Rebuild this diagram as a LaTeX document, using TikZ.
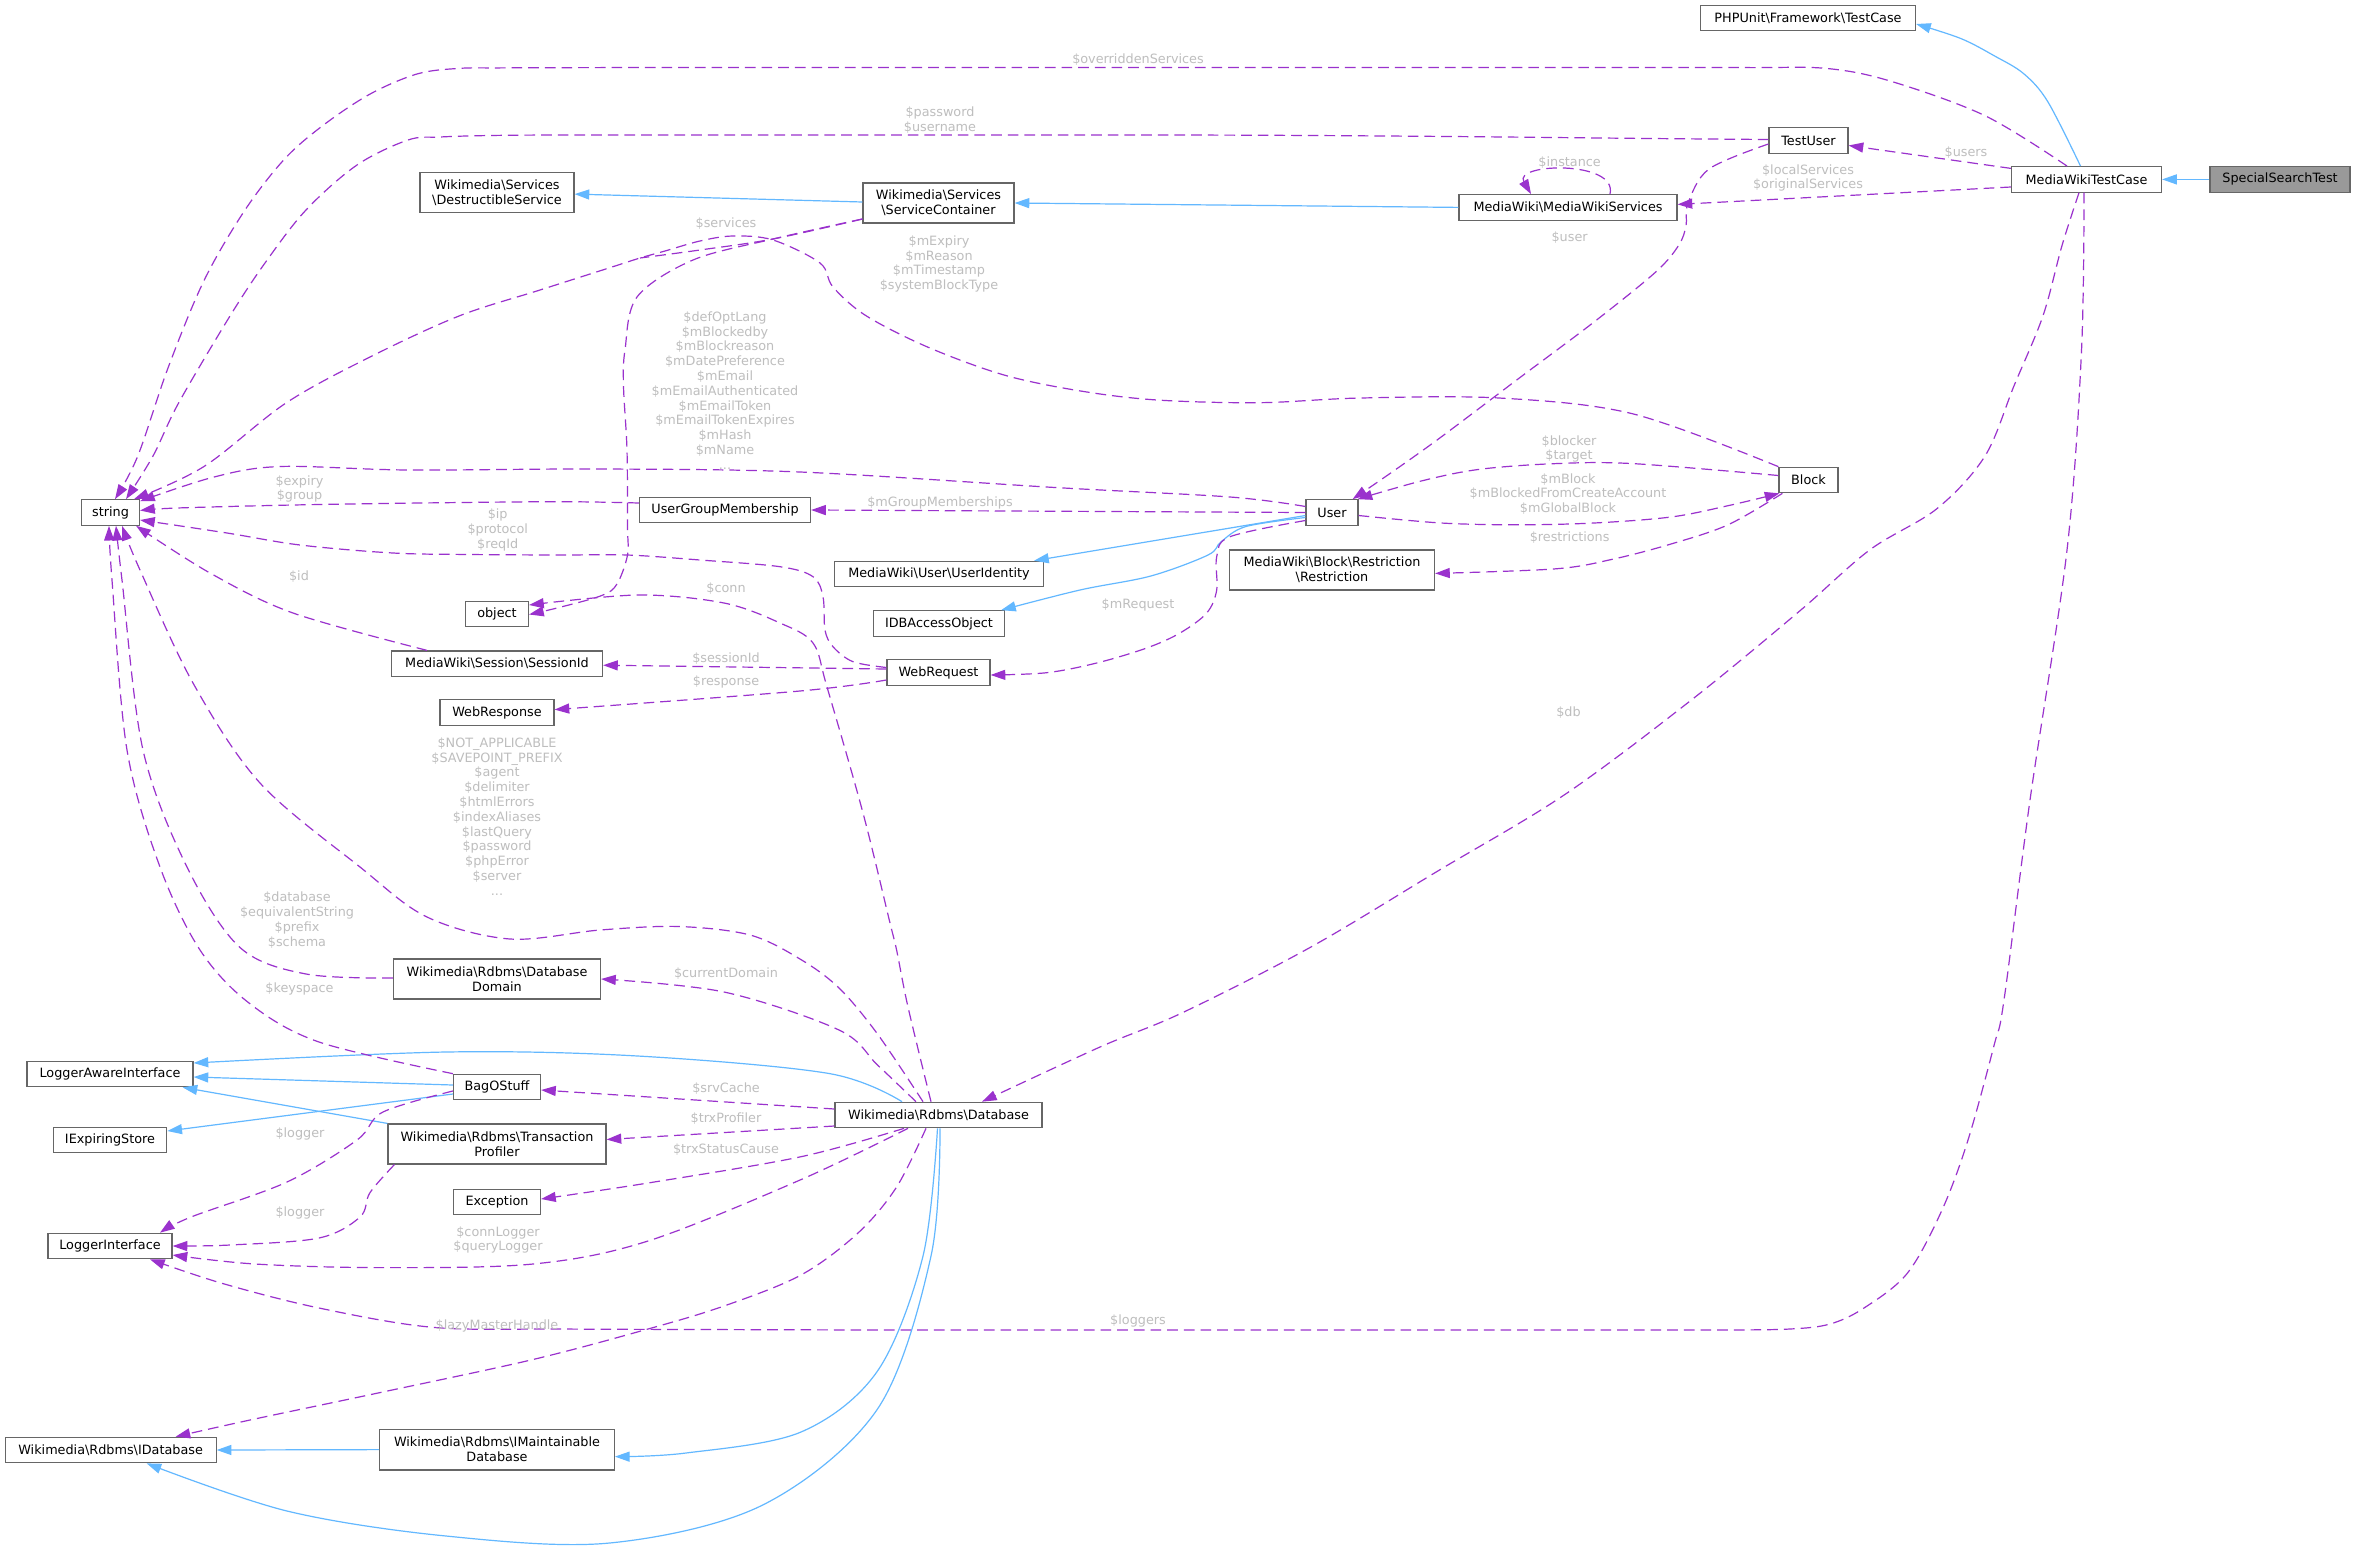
\documentclass[tikz,border=0pt]{standalone}
\usepackage{fontspec}
\setmainfont{DejaVu Sans}
\usetikzlibrary{arrows.meta}
\definecolor{cpurple}{HTML}{9A32CD}
\definecolor{cblue}{HTML}{63B8FF}
\definecolor{cgrey}{HTML}{BEBEBE}
\definecolor{cborder}{HTML}{666666}
\definecolor{cfill}{HTML}{999999}
\newcommand\gfont{\fontsize{9.6pt}{11.1pt}\selectfont}
\begin{document}
\begin{tikzpicture}[x=0.75pt,y=-0.75pt,
  nd/.style={draw=cborder, line width=0.9pt, fill=white, inner sep=0pt, minimum height=19.1pt, font=\gfont, align=center, text=black},
  wd/.style={minimum width=#1*0.75pt},
  h2/.style={minimum height=30pt},
  inh/.style={draw=cblue, line width=0.9pt, -{Triangle[length=11pt,width=7.5pt]}},
  use/.style={draw=cpurple, line width=0.9pt, dash pattern=on 8pt off 4.5pt, -{Triangle[length=11pt,width=7.5pt]}},
  lab/.style={text=cgrey, font=\gfont, align=center, inner sep=0pt},
  sm/.style={smooth, tension=0.55}
]
\path[fill=white] (0,0) rectangle (2355,1549);
\useasboundingbox (0,0) rectangle (2355,1549);

% ---------------- nodes
\node[nd,wd=215] (phpunit) at (1808,18) {PHPUnit\textbackslash Framework\textbackslash TestCase};
\node[nd,wd=79] (testuser) at (1808.5,140.5) {TestUser};
\node[nd,wd=150] (mwtc) at (2086.5,179.4) {MediaWikiTestCase};
\node[nd,wd=140,fill=cfill] (sst) at (2280,179.4) {SpecialSearchTest};
\node[nd,wd=218] (mws) at (1568,207.4) {MediaWiki\textbackslash MediaWikiServices};
\node[nd,wd=151,h2] (sc) at (938.5,203) {Wikimedia\textbackslash Services\\\textbackslash ServiceContainer};
\node[nd,wd=154,h2] (ds) at (497,192.6) {Wikimedia\textbackslash Services\\\textbackslash DestructibleService};
\node[nd,wd=58] (string) at (110.5,512.5) {string};
\node[nd,wd=171] (ugm) at (725,510) {UserGroupMembership};
\node[nd,wd=52] (user) at (1332,512.5) {User};
\node[nd,wd=59] (block) at (1808.5,480) {Block};
\node[nd,wd=205,h2] (restr) at (1332,570) {MediaWiki\textbackslash Block\textbackslash Restriction\\\textbackslash Restriction};
\node[nd,wd=209] (ui) at (939,574) {MediaWiki\textbackslash User\textbackslash UserIdentity};
\node[nd,wd=131] (idb) at (939,623.5) {IDBAccessObject};
\node[nd,wd=63] (object) at (497,614) {object};
\node[nd,wd=211] (sid) at (497,663.7) {MediaWiki\textbackslash Session\textbackslash SessionId};
\node[nd,wd=103] (webreq) at (938.5,672.5) {WebRequest};
\node[nd,wd=114] (wresp) at (497,712.6) {WebResponse};
\node[nd,wd=207,h2] (dd) at (497,979) {Wikimedia\textbackslash Rdbms\textbackslash Database\\Domain};
\node[nd,wd=166] (lai) at (110,1074) {LoggerAwareInterface};
\node[nd,wd=87] (bag) at (497,1087) {BagOStuff};
\node[nd,wd=113.5] (ies) at (110,1140) {IExpiringStore};
\node[nd,wd=218,h2] (tp) at (497,1144) {Wikimedia\textbackslash Rdbms\textbackslash Transaction\\Profiler};
\node[nd,wd=87] (exc) at (497,1202) {Exception};
\node[nd,wd=124] (li) at (110,1246) {LoggerInterface};
\node[nd,wd=207] (db) at (938.5,1115) {Wikimedia\textbackslash Rdbms\textbackslash Database};
\node[nd,wd=211] (idbase) at (110.6,1450) {Wikimedia\textbackslash Rdbms\textbackslash IDatabase};
\node[nd,wd=234.6,minimum height=30.5pt] (imd) at (497,1449.6) {Wikimedia\textbackslash Rdbms\textbackslash IMaintainable\\Database};

% ---------------- inheritance (blue)
\draw[inh] (sst.west) -- (mwtc.east);
\draw[inh] plot[sm] coordinates {([shift={(-6,0)}]mwtc.north) (2047.8,101.7) (2023.7,73.7) (1994.8,56.1) (1961,38.6) ([shift={(0,6)}]phpunit.east)};
\draw[inh] ([shift={(0,-1)}]sc.west) -- ([shift={(0,1.5)}]ds.east);
\draw[inh] (mws.west) -- (sc.east);
\draw[inh] ([shift={(0,3)}]user.west) -- ([shift={(-10,0)}]ui.north east);
\draw[inh] plot[sm] coordinates {([shift={(0,5)}]user.west) (1246,526.5) (1221,541.8) (1208,555) (1150.8,576) (1080,590) ([shift={(-4,0)}]idb.north east)};
\draw[inh] ([shift={(0,-2)}]bag.west) -- ([shift={(0,3)}]lai.east);
\draw[inh] ([shift={(0,7)}]bag.west) -- ([shift={(0,-9)}]ies.east);
\draw[inh] (tp.north west) -- ([shift={(-11,0)}]lai.south east);
\draw[inh] plot[sm] coordinates {([shift={(-36.5,0)}]db.north) (829,1073.5) (637.7,1056) (446,1052) ([shift={(0,-11)}]lai.east)};
\draw[inh] plot[sm] coordinates {([shift={(-1,0)}]db.south) (923,1256) (877.5,1371) (801,1432) (686,1453) ([shift={(0,7)}]imd.east)};
\draw[inh] plot[sm] coordinates {([shift={(1.5,0)}]db.south) (931,1256) (877.5,1409) (762.7,1505) (609.6,1543) (446,1536) (287,1511) ([shift={(36,0)}]idbase.south)};
\draw[inh] (imd.west) -- (idbase.east);

% ---------------- usage (purple dashed)
% $overriddenServices
\draw[use] plot[sm] coordinates {([shift={(-19.5,0)}]mwtc.north) (1985,115.7) (1889,80.7) (1826,68.4) (1750,67.6) (1600,67.5) (1300,67.5) (1000,67.5) (750,67.5) (600,67.6) (500,67.9) (459,68.4) (418,73.7) (372,93) (326.5,122.8) (285.7,157.8) (245,210) (204,280.6) (168,368) (137.8,456) ([shift={(4.5,0)}]string.north)};
% $password $username
\draw[use] plot[sm] coordinates {([shift={(0,-1)}]testuser.west) (1650,138.5) (1450,136.5) (1250,135.2) (1050,135) (850,135) (680,135) (560,135) (490,135.5) (440,137) (408,140) (357,165) (306,210) (265,263) (230,316) (178.6,403) (153,456) ([shift={(15.5,0)}]string.north)};
% $users
\draw[use] ([shift={(0,-11)}]mwtc.west) -- ([shift={(0,5)}]testuser.east);
% $localServices $originalServices
\draw[use] ([shift={(0,7.6)}]mwtc.west) -- ([shift={(0,-3)}]mws.east);
% $instance
\draw[use] ([shift={(42,0)}]mws.north) .. controls (1618,160) and (1513,163) .. ([shift={(-37,0)}]mws.north);
% $user
\draw[use] plot[sm] coordinates {([shift={(0,3.5)}]testuser.west) (1709,169) (1688,203.3) (1686,226) (1678.6,245.4) (1655.7,272) (1594,322) (1518,379) (1441.4,436.8) (1395,470) ([shift={(-6,0)}]user.north east)};
% $services -> string (joins the Block -> string connector)
\coordinate (svcmerge) at (640,258);
\draw[use,-] plot[sm] coordinates {([shift={(0,16)}]sc.west) (773,239) (700,250) (svcmerge)};
% $services -> object
\draw[use] plot[sm] coordinates {([shift={(0,16)}]sc.west) (773,239) (693,260) (637,297) (625,350) (623.5,386) (627,450) (627.5,526) (627.5,555) (617,584) (602,595.4) (561,607) ([shift={(0,0.5)}]object.east)};
% Block -> string
\draw[use] plot[sm] coordinates {(block.north west) (1632.7,413.8) (1499,398) (1361,398) (1259,402.7) (1157,400) (1080.6,391) (1004,375) (927.5,347) (866,315.7) (833,287) (820,263) (773,240) (733,236) (700,241) (665,251) (svcmerge) (612,267) (540,290) (459,316) (370,357) (286,403) (204,466.5) ([shift={(23.5,0)}]string.north)};
% User -> string
\draw[use] plot[sm] coordinates {([shift={(0,-6)}]user.west) (1230,497) (1055,487.5) (800,472) (600,469) (408,470) (280.6,466.5) (214,477) ([shift={(0,2)}]string.north east)};
% $mGroupMemberships
\draw[use] (user.west) -- (ugm.east);
% $expiry $group
\draw[use] plot[sm] coordinates {([shift={(0,-7)}]ugm.west) (560,501.7) (420,503) (293,505) (177,508) ([shift={(0,-2)}]string.east)};
% $ip $protocol $reqId
\draw[use] plot[sm] coordinates {([shift={(0,-5)}]webreq.west) (853,661.7) (833,646.7) (825,630) (823,596.7) (813,576.7) (780,566.7) (700,560) (627,555) (560,555) (470,554.5) (393,553) (300,545) (227,533) ([shift={(0,7.5)}]string.east)};
% $id
\draw[use] plot[sm] coordinates {([shift={(-70,0)}]sid.north) (293,613) (210,573) ([shift={(-4,0)}]string.south east)};
% Database -> string
\draw[use] plot[sm] coordinates {([shift={(-15.5,0)}]db.north) (877.5,1034) (839,988) (800,959) (750,935) (678.6,926.5) (600,930) (510,939) (427,917) (360,867) (260,783) (193,683) (140,570) ([shift={(11.5,0)}]string.south)};
% DatabaseDomain -> string
\draw[use] plot[sm] coordinates {([shift={(0,-1)}]dd.west) (306,974) (240,947.5) (187,867) (143,750) (122,580) ([shift={(5.5,0)}]string.south)};
% $keyspace
\draw[use] plot[sm] coordinates {(bag.north west) (319,1042) (249,1003) (200,950) (160,867) (127,750) (112,580) ([shift={(-1.5,0)}]string.south)};
% $conn
\draw[use] plot[sm] coordinates {([shift={(-7.5,0)}]db.north) (908,1007) (896.6,950) (890,923) (863,813) (827,687) (813,643) (780,623) (724,603) (638,595) ([shift={(0,-9)}]object.east)};
% $sessionId
\draw[use] ([shift={(0,-3.5)}]webreq.west) -- ([shift={(0,1.5)}]sid.east);
% $response
\draw[use] plot[sm] coordinates {([shift={(0,7.5)}]webreq.west) (800,691) ([shift={(0,-3)}]wresp.east)};
% $mRequest
\draw[use] plot[sm] coordinates {([shift={(0,8)}]user.west) (1230,536.7) (1216.7,556.7) (1216.7,590) (1206.7,613) (1180,633) (1146.7,648) (1096.7,663) (1046.7,672.7) ([shift={(0,2.5)}]webreq.east)};
% $mBlock ...
\draw[use] plot[sm] coordinates {([shift={(0,3)}]user.east) (1441,523) (1518,524.8) (1594,523) (1671,517) (1728,505.7) ([shift={(1,0)}]block.south west)};
% $blocker $target
\draw[use] plot[sm] coordinates {([shift={(0,-4.5)}]block.west) (1632.7,463.6) (1556,463.6) (1479.6,469.3) (1422,480.8) ([shift={(-1,0)}]user.north east)};
% $restrictions
\draw[use] plot[sm] coordinates {([shift={(4,0)}]block.south west) (1728,524.8) (1671,544) (1613.6,559) (1556,568.8) ([shift={(0,3.4)}]restr.east)};
% $db
\draw[use] plot[sm] coordinates {([shift={(-7.5,0)}]mwtc.south) (2062,245.5) (2043,315.7) (2014,385.8) (1985,456) (1937,508.6) (1869.6,550) (1800,610.7) (1693,698.7) (1565,794.4) (1437.8,871) (1310,947.5) (1182.6,1012.6) (1100,1047) ([shift={(43.5,0)}]db.north)};
% $loggers
\draw[use] plot[sm] coordinates {([shift={(-2.5,0)}]mwtc.south) (2081.5,350.7) (2067,550) (2030,800) (2004,1000) (1994,1045.5) (1968,1140) (1942,1210) (1907.5,1273) (1864,1308) (1830,1324) (1790,1329) (1720,1330) (1600,1330) (1400,1330) (1150,1330) (900,1330) (700,1329.5) (561,1329) (433.7,1327.4) (319,1308) (223,1283.6) ([shift={(40,0)}]li.south)};
% $lazyMasterHandle
\draw[use] plot[sm] coordinates {([shift={(-12.5,0)}]db.south) (896.6,1187) (858,1233) (801,1275) (724,1306) (648,1329) (533,1359.5) (382.7,1392) (250,1420) ([shift={(65,0)}]idbase.north)};
% $connLogger $queryLogger
\draw[use] plot[sm] coordinates {([shift={(-30.5,0)}]db.south) (801,1179.6) (648,1241) (533,1264) (380,1267.6) (255,1264) ([shift={(0,9)}]li.east)};
% $logger (TransactionProfiler)
\draw[use] plot[sm] coordinates {([shift={(7,0)}]tp.south west) (370,1192.6) (360,1217) (319,1238) (230,1245) (li.east)};
% $logger (BagOStuff)
\draw[use] plot[sm] coordinates {([shift={(0,4)}]bag.west) (383,1112) (357,1140) (287,1182) (191,1217) ([shift={(50,0)}]li.north)};
% $srvCache
\draw[use] ([shift={(0,-6)}]db.west) -- ([shift={(0,3)}]bag.east);
% $trxProfiler
\draw[use] ([shift={(0,11)}]db.west) -- ([shift={(0,-4.5)}]tp.east);
% $trxStatusCause
\draw[use] plot[sm] coordinates {([shift={(-34.5,0)}]db.south) (801,1156.7) (648,1183) ([shift={(0,-3)}]exc.east)};
% $currentDomain
\draw[use] plot[sm] coordinates {([shift={(-22.5,0)}]db.north) (877.5,1065) (839,1030) (724,992) (dd.east)};

% ---------------- edge labels
\node[lab] (lb1) at (1138,60) {\$overriddenServices};
\node[lab] (lb2) at (940,120) {\$password\\\$username};
\node[lab] (lb3) at (1966,153) {\$users};
\node[lab] (lb4) at (1808,178) {\$localServices\\\$originalServices};
\node[lab] (lb5) at (1569.6,162.4) {\$instance};
\node[lab] (lb6) at (1569.6,237.8) {\$user};
\node[lab] (lb7) at (726,224) {\$services};
\node[lab] (lb8) at (939,264) {\$mExpiry\\\$mReason\\\$mTimestamp\\\$systemBlockType};
\node[lab] (lb9) at (725,390.5) {\$defOptLang\\\$mBlockedby\\\$mBlockreason\\\$mDatePreference\\\$mEmail\\\$mEmailAuthenticated\\\$mEmailToken\\\$mEmailTokenExpires\\\$mHash\\\$mName\\...};
\node[lab] (lb10) at (940,502.7) {\$mGroupMemberships};
\node[lab] (lb11) at (299.5,489) {\$expiry\\\$group};
\node[lab] (lb12) at (497.7,530) {\$ip\\\$protocol\\\$reqId};
\node[lab] (lb13) at (299,577) {\$id};
\node[lab] (lb14) at (726,588.5) {\$conn};
\node[lab] (lb15) at (726,658.6) {\$sessionId};
\node[lab] (lb16) at (726,681.5) {\$response};
\node[lab] (lb17) at (1138,605) {\$mRequest};
\node[lab] (lb18) at (1569,449) {\$blocker\\\$target};
\node[lab] (lb19) at (1568,494) {\$mBlock\\\$mBlockedFromCreateAccount\\\$mGlobalBlock};
\node[lab] (lb20) at (1569.6,537.4) {\$restrictions};
\node[lab] (lb21) at (1568.5,713) {\$db};
\node[lab] (lb22) at (497,816.5) {\$NOT\_APPLICABLE\\\$SAVEPOINT\_PREFIX\\\$agent\\\$delimiter\\\$htmlErrors\\\$indexAliases\\\$lastQuery\\\$password\\\$phpError\\\$server\\...};
\node[lab] (lb23) at (297,920) {\$database\\\$equivalentString\\\$prefix\\\$schema};
\node[lab] (lb24) at (299.5,989) {\$keyspace};
\node[lab] (lb25) at (726,973.7) {\$currentDomain};
\node[lab] (lb26) at (726,1088.5) {\$srvCache};
\node[lab] (lb27) at (726,1118.4) {\$trxProfiler};
\node[lab] (lb28) at (726,1149.8) {\$trxStatusCause};
\node[lab] (lb29) at (300,1134) {\$logger};
\node[lab] (lb30) at (300,1213) {\$logger};
\node[lab] (lb31) at (498,1240) {\$connLogger\\\$queryLogger};
\node[lab] (lb32) at (497,1325.6) {\$lazyMasterHandle};
\node[lab] (lb33) at (1138,1321) {\$loggers};
\end{tikzpicture}
\end{document}
